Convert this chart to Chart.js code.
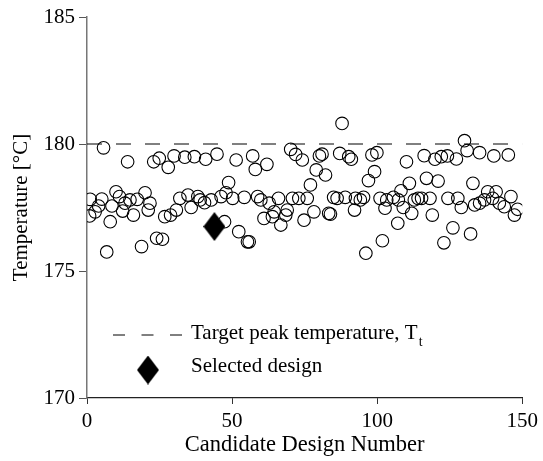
<!DOCTYPE html>
<html>
<head>
<meta charset="utf-8">
<script src="https://cdn.jsdelivr.net/npm/chart.js@4.4.1/dist/chart.umd.min.js"></script>
<style>
    html, body { margin: 0; padding: 0; background: #fff; }
    #wrap { width: 543px; height: 461px; }
</style>
</head>
<body>
<div id="wrap"><canvas id="tempChart" width="543" height="461"></canvas></div>
<script>
// candidate designs (number, peak temperature in degC)
const designNo = [
    0.9, 1.1, 2.8, 4.0, 5.1, 5.7, 6.8, 8.0, 8.6, 10.0,
    11.2, 12.3, 13.1, 14.0, 14.8, 16.0, 17.3, 18.8, 20.0, 21.1,
    21.7, 23.0, 24.0, 24.9, 26.0, 26.8, 28.0, 28.8, 30.0, 30.8,
    32.0, 33.7, 34.8, 35.9, 37.0, 38.2, 39.0, 40.5, 40.9, 42.8,
    44.8, 46.2, 47.4, 47.9, 48.8, 50.2, 51.4, 52.3, 54.2, 55.3,
    55.9, 57.1, 58.0, 58.8, 59.9, 61.0, 62.0, 62.8, 63.9, 64.5,
    66.0, 66.8, 68.5, 69.0, 70.2, 70.8, 71.9, 73.0, 74.2, 74.8,
    75.9, 77.0, 78.2, 79.0, 80.1, 81.0, 82.2, 83.3, 83.9, 85.0,
    86.2, 87.1, 87.9, 89.0, 90.2, 91.1, 92.2, 92.5, 94.2, 95.3,
    96.1, 97.0, 98.2, 99.1, 99.9, 101.0, 101.8, 102.7, 103.3, 105.6,
    107.1, 107.3, 108.2, 109.0, 110.1, 111.1, 111.9, 112.8, 114.1, 115.3,
    116.2, 117.0, 118.2, 119.0, 119.9, 121.0, 122.1, 123.0, 124.2, 124.4,
    126.1, 127.3, 127.8, 129.0, 130.1, 131.0, 132.2, 133.0, 133.6, 135.3,
    135.3, 137.0, 138.1, 139.8, 140.2, 141.0, 142.1, 143.8, 145.2, 146.1,
    147.3, 148.4
];
const peakTemp = [
    177.17, 177.82, 177.33, 177.56, 177.83, 179.85, 175.75, 176.94, 177.56, 178.12,
    177.93, 177.36, 177.67, 179.30, 177.80, 177.20, 177.82, 175.96, 178.08, 177.40,
    177.67, 179.30, 176.29, 179.44, 176.25, 177.14, 179.08, 177.20, 179.53, 177.40,
    177.86, 179.48, 177.99, 177.50, 179.50, 177.93, 177.80, 177.69, 179.40, 177.80,
    179.60, 177.93, 176.94, 178.08, 178.48, 177.86, 179.37, 176.55, 177.90, 176.15,
    176.15, 179.53, 179.00, 177.93, 177.80, 177.07, 179.20, 177.67, 177.14, 177.33,
    177.86, 176.81, 177.20, 177.40, 179.79, 177.86, 179.59, 177.86, 179.37, 177.00,
    177.86, 178.39, 177.33, 178.98, 179.53, 179.60, 178.78, 177.27, 177.24, 177.90,
    177.86, 179.63, 180.81, 177.90, 179.50, 179.40, 177.40, 177.86, 177.80, 177.90,
    175.70, 178.56, 179.57, 178.91, 179.66, 177.86, 176.19, 177.47, 177.80, 177.90,
    176.88, 177.80, 178.16, 177.50, 179.30, 178.45, 177.27, 177.80, 177.86, 177.86,
    179.54, 178.65, 177.86, 177.20, 179.40, 178.54, 179.50, 176.11, 179.53, 177.86,
    176.70, 179.41, 177.86, 177.50, 180.13, 179.74, 176.46, 178.45, 177.60, 179.66,
    177.67, 177.80, 178.12, 177.86, 179.53, 178.12, 177.67, 177.53, 179.57, 177.93,
    177.20, 177.43
];
const selectedNo = [43.9];
const selectedTemp = [176.75];
const targetTemp = 180;
const xTicks = [0, 50, 100, 150];
const yTicks = [170, 175, 180, 185];

const serif = '"Liberation Serif", "Times New Roman", serif';

// filled diamond marker (taller than wide)
function makeDiamond(w, h) {
    const c = document.createElement('canvas');
    c.width = w;
    c.height = h;
    const g = c.getContext('2d');
    g.fillStyle = '#000';
    g.beginPath();
    g.moveTo(w / 2, 0);
    g.lineTo(w, h / 2);
    g.lineTo(w / 2, h);
    g.lineTo(0, h / 2);
    g.closePath();
    g.fill();
    return c;
}
const diamond = makeDiamond(22, 29);

// legend drawn inside the plot, lower left
const insideLegend = {
    id: 'insideLegend',
    afterDraw(chart) {
        const ctx = chart.ctx;
        const a = chart.chartArea;
        const x0 = a.left + 26;
        const yLine = a.top + 318;
        const yText1 = a.top + 316;
        const yDiam = a.top + 353;
        const yText2 = a.top + 349;
        const xText = x0 + 78;
        ctx.save();
        ctx.strokeStyle = '#000';
        ctx.lineWidth = 1;
        ctx.setLineDash([12, 16.5]);
        ctx.beginPath();
        ctx.moveTo(x0, yLine);
        ctx.lineTo(x0 + 69, yLine);
        ctx.stroke();
        ctx.setLineDash([]);
        ctx.drawImage(diamond, x0 + 35 - 11, yDiam - 14.5);

        ctx.fillStyle = '#000';
        ctx.textBaseline = 'middle';
        ctx.textAlign = 'left';
        ctx.font = '21px ' + serif;
        const label = 'Target peak temperature, T';
        ctx.fillText(label, xText, yText1);
        const w = ctx.measureText(label).width;
        ctx.font = '14px ' + serif;
        ctx.fillText('t', xText + w + 1, yText1 + 9);
        ctx.font = '21px ' + serif;
        ctx.fillText('Selected design', xText, yText2);
        ctx.restore();
    }
};

const ctx = document.getElementById('tempChart').getContext('2d');
const tempChart = new Chart(ctx, {
    type: 'scatter',
    data: {
        datasets: [
            {
                label: 'Target peak temperature',
                type: 'line',
                data: [{ x: 0, y: targetTemp }, { x: 150, y: targetTemp }],
                borderColor: '#000',
                borderWidth: 1,
                borderDash: [15, 14],
                pointRadius: 0,
                order: 3
            },
            {
                label: 'Candidate designs',
                data: designNo.map((n, i) => ({ x: n, y: peakTemp[i] })),
                pointStyle: 'circle',
                pointRadius: 6.3,
                borderColor: '#000',
                borderWidth: 1.1,
                backgroundColor: 'rgba(0,0,0,0)',
                order: 2
            },
            {
                label: 'Selected design',
                data: selectedNo.map((n, i) => ({ x: n, y: selectedTemp[i] })),
                pointStyle: diamond,
                order: 1
            }
        ]
    },
    options: {
        responsive: false,
        animation: false,
        layout: {
            padding: { top: 17, right: 18, left: 0, bottom: 0 }
        },
        scales: {
            x: {
                type: 'linear',
                min: 0,
                max: 150,
                afterFit: (s) => { s.height = 63; },
                afterBuildTicks: (s) => { s.ticks = xTicks.map(v => ({ value: v })); },
                grid: {
                    drawOnChartArea: false,
                    drawTicks: true,
                    tickLength: 6,
                    color: '#333'
                },
                border: { color: '#222', width: 1.2 },
                ticks: {
                    color: '#000',
                    padding: 5,
                    font: { family: serif, size: 21 }
                },
                title: {
                    display: true,
                    text: 'Candidate Design Number',
                    color: '#000',
                    padding: { top: 0, bottom: 2 },
                    font: { family: serif, size: 22.5 }
                }
            },
            y: {
                min: 170,
                max: 185,
                afterFit: (s) => { s.width = 87; },
                afterBuildTicks: (s) => { s.ticks = yTicks.map(v => ({ value: v })); },
                grid: {
                    drawOnChartArea: false,
                    drawTicks: true,
                    tickLength: 8,
                    color: '#555'
                },
                border: { color: '#777', width: 1.5 },
                ticks: {
                    color: '#000',
                    padding: 4,
                    font: { family: serif, size: 21 }
                },
                title: {
                    display: true,
                    text: 'Temperature [°C]',
                    color: '#000',
                    padding: { top: 9, bottom: 0 },
                    font: { family: serif, size: 21 }
                }
            }
        },
        plugins: {
            legend: { display: false },
            tooltip: { enabled: false }
        }
    },
    plugins: [insideLegend]
});
</script>
</body>
</html>
